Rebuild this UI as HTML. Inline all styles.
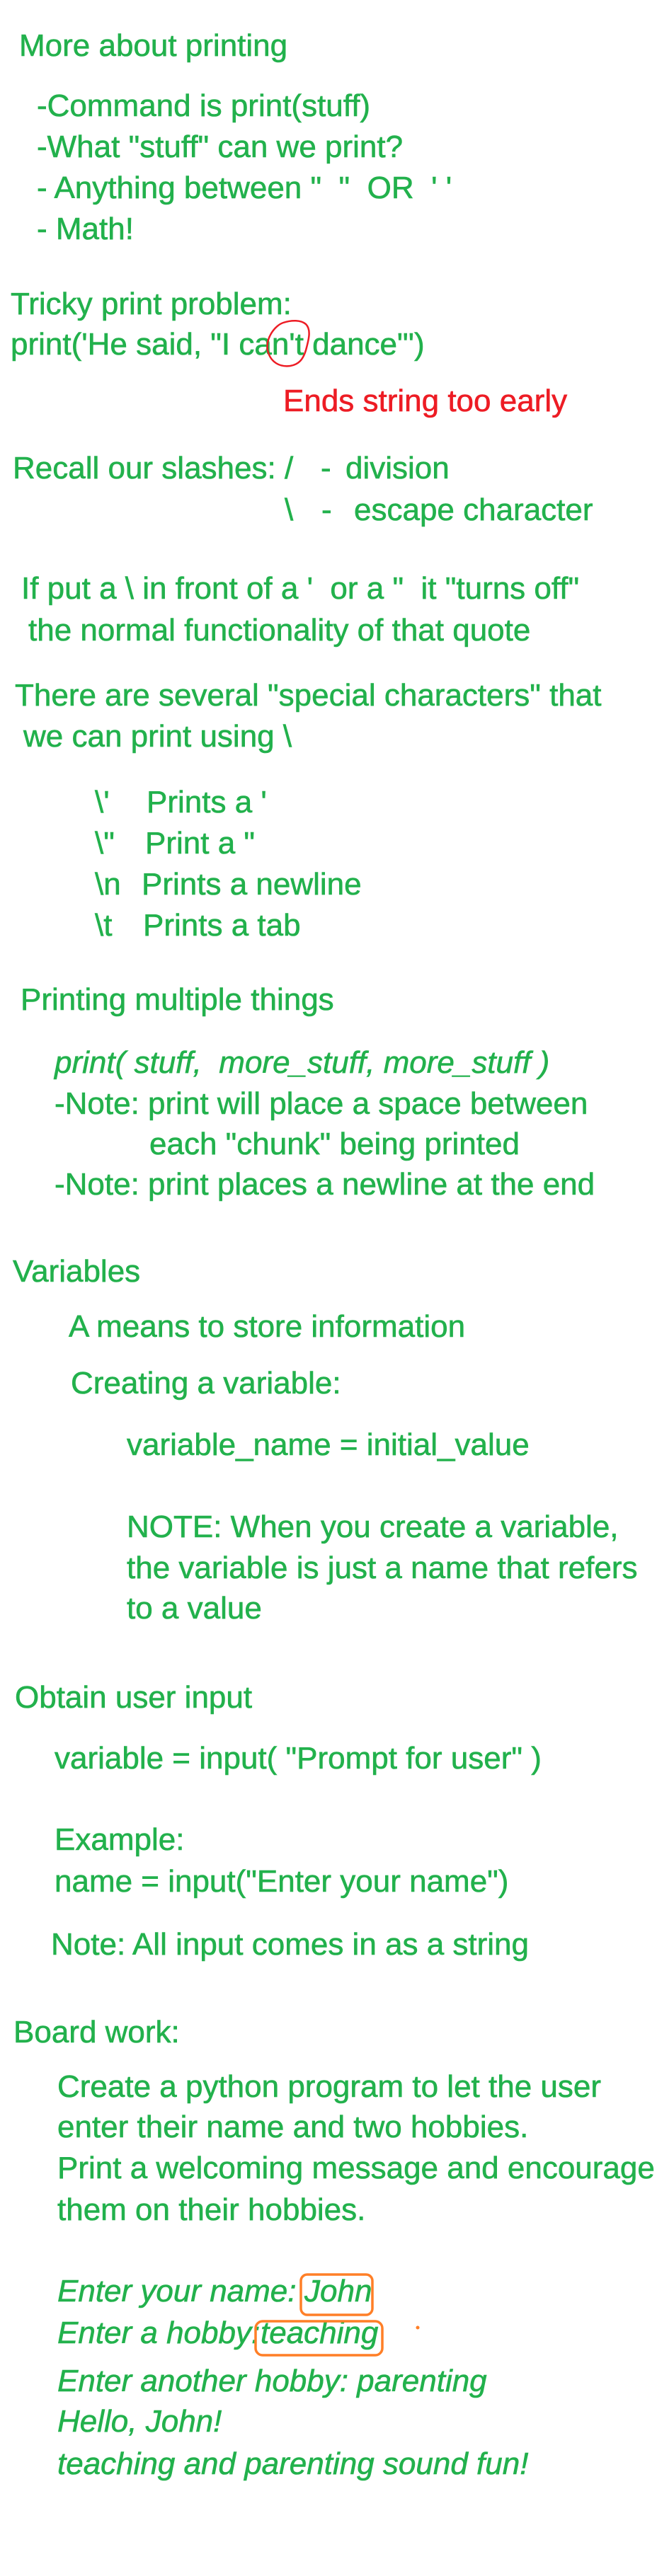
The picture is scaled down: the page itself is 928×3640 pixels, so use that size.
<!DOCTYPE html>
<html><head><meta charset="utf-8"><style>
html,body{margin:0;padding:0;background:#fff;}
body{width:928px;height:3640px;position:relative;overflow:hidden;font-family:"Liberation Sans",sans-serif;}
.t{position:absolute;font-size:44px;line-height:44px;height:44px;white-space:pre;color:#22b14c;-webkit-text-stroke:0.6px #22b14c;}
.i{font-style:italic;}
.r{color:#ed1c24;-webkit-text-stroke:0.6px #ed1c24;}
</style></head><body>
<div class="t" style="left:27px;top:43px">More about printing</div>
<div class="t" style="left:52px;top:128px">-Command is print(stuff)</div>
<div class="t" style="left:52px;top:186px">-What "stuff" can we print?</div>
<div class="t" style="left:52px;top:244px">- Anything between "  "  OR  ' '</div>
<div class="t" style="left:52px;top:302px">- Math!</div>

<div class="t" style="left:15px;top:408px">Tricky print problem:</div>
<div class="t" style="left:15px;top:465px">print('He said, "I can't dance"')</div>
<div class="t r" style="left:400px;top:545px">Ends string too early</div>

<div class="t" style="left:18px;top:640px">Recall our slashes:</div>
<div class="t" style="left:402px;top:640px">/</div>
<div class="t" style="left:453px;top:640px">-</div>
<div class="t" style="left:488px;top:640px">division</div>
<div class="t" style="left:402px;top:699px">\</div>
<div class="t" style="left:454px;top:699px">-</div>
<div class="t" style="left:500px;top:699px">escape character</div>

<div class="t" style="left:30px;top:810px">If put a \ in front of a '  or a "  it "turns off"</div>
<div class="t" style="left:40px;top:869px">the normal functionality of that quote</div>

<div class="t" style="left:21px;top:961px">There are several "special characters" that</div>
<div class="t" style="left:33px;top:1019px">we can print using \</div>

<div class="t" style="left:134px;top:1112px">\'</div><div class="t" style="left:207px;top:1112px">Prints a '</div>
<div class="t" style="left:134px;top:1170px">\"</div><div class="t" style="left:205px;top:1170px">Print a "</div>
<div class="t" style="left:134px;top:1228px">\n</div><div class="t" style="left:200px;top:1228px">Prints a newline</div>
<div class="t" style="left:134px;top:1286px">\t</div><div class="t" style="left:202px;top:1286px">Prints a tab</div>

<div class="t" style="left:29px;top:1391px">Printing multiple things</div>
<div class="t i" style="left:77px;top:1480px">print( stuff,  more_stuff, more_stuff )</div>
<div class="t" style="left:77px;top:1538px">-Note: print will place a space between</div>
<div class="t" style="left:211px;top:1595px">each "chunk" being printed</div>
<div class="t" style="left:77px;top:1652px">-Note: print places a newline at the end</div>

<div class="t" style="left:18px;top:1775px">Variables</div>
<div class="t" style="left:97px;top:1853px">A means to store information</div>
<div class="t" style="left:100px;top:1933px">Creating a variable:</div>
<div class="t" style="left:179px;top:2020px">variable_name = initial_value</div>
<div class="t" style="left:179px;top:2136px">NOTE: When you create a variable,</div>
<div class="t" style="left:179px;top:2194px">the variable is just a name that refers</div>
<div class="t" style="left:179px;top:2251px">to a value</div>

<div class="t" style="left:21px;top:2377px">Obtain user input</div>
<div class="t" style="left:77px;top:2463px">variable = input( "Prompt for user" )</div>
<div class="t" style="left:77px;top:2578px">Example:</div>
<div class="t" style="left:77px;top:2637px">name = input("Enter your name")</div>
<div class="t" style="left:72px;top:2726px">Note: All input comes in as a string</div>

<div class="t" style="left:19px;top:2850px">Board work:</div>
<div class="t" style="left:81px;top:2927px">Create a python program to let the user</div>
<div class="t" style="left:81px;top:2984px">enter their name and two hobbies.</div>
<div class="t" style="left:81px;top:3042px">Print a welcoming message and encourage</div>
<div class="t" style="left:81px;top:3101px">them on their hobbies.</div>

<div class="t i" style="left:81px;top:3216px">Enter your name:</div>
<div class="t i" style="left:430px;top:3216px">John</div>
<div class="t i" style="left:81px;top:3275px">Enter a hobby:</div>
<div class="t i" style="left:368px;top:3275px">teaching</div>
<div class="t i" style="left:81px;top:3343px">Enter another hobby: parenting</div>
<div class="t i" style="left:81px;top:3400px">Hello, John!</div>
<div class="t i" style="left:81px;top:3460px">teaching and parenting sound fun!</div>

<svg width="928" height="3640" style="position:absolute;left:0;top:0" fill="none">
<path d="M400 456 C 388 460, 375 478, 378 495 C 382 512, 395 519, 410 517 C 422 515, 428 508, 432 495 C 436 480, 440 466, 432 458 C 425 452, 412 452, 400 456 Z" stroke="#ed1c24" stroke-width="2.5"/>
<rect x="425" y="3214" width="101" height="57" rx="9" stroke="#ff7f27" stroke-width="3.5"/>
<rect x="361" y="3280" width="179" height="48" rx="10" stroke="#ff7f27" stroke-width="3.5"/>
<circle cx="590" cy="3289" r="2.5" fill="#ff7f27"/>
</svg>
</body></html>
